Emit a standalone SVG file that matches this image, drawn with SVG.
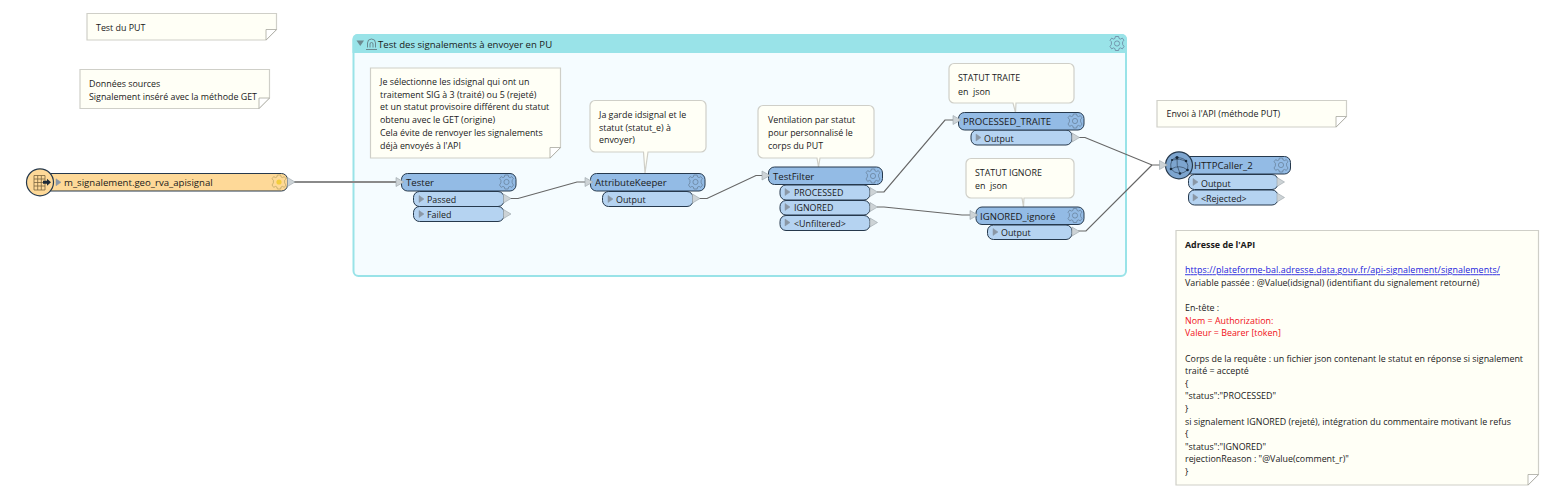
<svg xmlns="http://www.w3.org/2000/svg" width="1546" height="497" viewBox="0 0 1546 497">
<style>
text{font-family:"Open Sans","Noto Sans","Liberation Sans",sans-serif;fill:#1a1a1a;font-size:8.9px}
.l{font-size:9.6px}
.b{font-weight:700}
.r{fill:#f01020}
.u{fill:#2222dd;text-decoration:underline}
.note{fill:#fffff6;stroke:#cfcfc8;stroke-width:1.2}
.fold{fill:#fff;stroke:#a8a8a0;stroke-width:.8}
.call{fill:#fffff6;stroke:#cfcfc8;stroke-width:1.2}
.hd{fill:#93bbe5;stroke:#26394d;stroke-width:1}
.pt{fill:#b5d3f1;stroke:#26394d;stroke-width:1}
.src{fill:#fed998;stroke:#26394d;stroke-width:1}
.cn{fill:none;stroke:#666;stroke-width:1.2}
.cs{fill:none;stroke:#8a8a8a;stroke-width:1.8}
.tri{fill:#cdd3d6;stroke:#98a2a8;stroke-width:.6}
.pi{fill:#8a97a5;stroke:#8a97a5;stroke-width:.5}
.g{fill:none;stroke:#6a849e;stroke-width:.8}
.gy{fill:none;stroke:#c0a868;stroke-width:.8}
</style>
<defs>
<path id="out" class="tri" d="M0-4.500 7.500 0 0 4.500Z"/>
<path id="in" class="tri" d="M0-4.500 8 0 0 4.500Z"/>
<path id="pin" class="pi" d="M0-3.500 5 0 0 3.500Z"/>
<path id="cog" d="M-1.600-7H1.600L2.100-5 3.600-4.400 5.300-5.400 7-3.200 5.600-1.800V.9L7 3 5.300 5.400 3.600 4.400 2.100 5 1.600 7H-1.600L-2.100 5-3.600 4.400-5.300 5.400-7 3-5.600.9V-1.800L-7-3.200-5.300-5.400-3.600-4.400-2.100-5Z"/>
<g id="gear" class="g">
<circle r="2.600"/>
<use href="#cog"/>
</g>
</defs>

<g id="group-test">
<rect x="353.500" y="35" width="772.500" height="241" rx="5" fill="#f5fcff" stroke="#99e3e8" stroke-width="2"/>
<path d="M352.500 39a5 5 0 0 1 5-5H1122a5 5 0 0 1 5 5V53H352.500Z" fill="#99e3e8"/>
<path d="M356.500 40.500H364L360.250 46Z" fill="#6d8a90"/>
<path d="M366 49.500H377M367.500 47.500V43a4 4 0 0 1 8 0V47.500M370 47.500V44a1.500 1.500 0 0 1 3 0V47.500" fill="none" stroke="#5d7278" stroke-width=".8"/>
<text class="l" x="378" y="47.500">Test des signalements à envoyer en PU</text>
<use href="#gear" transform="translate(1117 43.500)"/>
</g>

<g id="connectors">
<path class="cs" d="M294 182H396"/>
<path class="cn" d="M510 198.500H518L577 182H585"/>
<path class="cn" d="M699 198.500H707L756 175.500H763"/>
<path class="cn" d="M877 192H884L945 120H953"/>
<path class="cn" d="M877 207H884L962 215H970"/>
<path class="cn" d="M1078 137.500H1085L1152 165H1160"/>
<path class="cn" d="M1078 231H1086L1152 165"/>
</g>

<g id="note-put">
<path class="note" d="M87 13.500H276.500V29.500L266 40H87Z"/><path class="fold" d="M266 40V29.500H276.500Z"/>
<text x="96" y="30.500">Test du PUT</text>
</g>
<g id="note-sources">
<path class="note" d="M80 69.500H269.500V98L259 108.500H80Z"/><path class="fold" d="M259 108.500V98H269.500Z"/>
<text x="89" y="87">Données sources</text>
<text x="89" y="99.500">Signalement inséré avec la méthode GET</text>
</g>

<g id="source">
<rect class="src" x="45" y="173.500" width="242.500" height="17.500" rx="6"/>
<circle cx="40" cy="182.300" r="13.500" fill="#fed998" stroke="#26394d" stroke-width="1.200"/>
<path d="M34 175.500H45V190H34ZM34 179H45M34 182.500H45M34 186H45M37.700 175.500V190M41.300 175.500V190" fill="none" stroke="#7a6640" stroke-width=".8"/>
<path d="M43 180.800H47V178.800L51 182.300 47 185.800V183.800H43Z" fill="#1c2a38"/>
<use href="#pin" x="56" y="182.300"/>
<text class="l" x="64" y="186">m_signalement.geo_rva_apisignal</text>
<g transform="translate(279 182)"><use href="#cog" class="gy"/><circle r="2.600" fill="#f3cd3d"/></g>
<use href="#out" x="287.500" y="182"/>
</g>

<g id="note-select">
<path class="note" d="M370.500 68H560.500V147.500L550 158H370.500Z"/><path class="fold" d="M550 158V147.500H560.500Z"/>
<text x="380" y="85">Je sélectionne les idsignal qui ont un</text>
<text x="380" y="97.700">traitement SIG à 3 (traité) ou 5 (rejeté)</text>
<text x="380" y="110.400">et un statut provisoire différent du statut</text>
<text x="380" y="123.100">obtenu avec le GET (origine)</text>
<text x="380" y="135.800">Cela évite de renvoyer les signalements</text>
<text x="380" y="148.500">déjà envoyés à l'API</text>
</g>

<g id="tester">
<rect class="pt" x="413.500" y="206.500" width="90.500" height="15" rx="6"/>
<rect class="pt" x="413.500" y="191.500" width="90.500" height="15" rx="6"/>
<rect class="hd" x="401.500" y="173.500" width="114.500" height="17.500" rx="6"/>
<text class="l" x="406" y="186">Tester</text>
<use href="#gear" transform="translate(506.500 182)"/>
<use href="#in" x="396" y="182"/>
<use href="#pin" x="419" y="199"/><text x="427" y="202.500">Passed</text><use href="#out" x="503.500" y="198.500"/>
<use href="#pin" x="419" y="214"/><text x="427" y="217.500">Failed</text><use href="#out" x="503.500" y="214"/>
</g>

<g id="note-keeper">
<path class="call" d="M595 100.500H701a5 5 0 0 1 5 5V147a5 5 0 0 1-5 5H648L645 173 643.500 152H595a5 5 0 0 1-5-5V105.500a5 5 0 0 1 5-5Z"/>
<text x="599" y="118">Ja garde idsignal et le</text>
<text x="599" y="130.500">statut (statut_e) à</text>
<text x="599" y="143">envoyer)</text>
</g>
<g id="attributekeeper">
<rect class="pt" x="602.500" y="191.500" width="90.500" height="15" rx="6"/>
<rect class="hd" x="590.500" y="173.500" width="114.500" height="17.500" rx="6"/>
<text class="l" x="595" y="186">AttributeKeeper</text>
<use href="#gear" transform="translate(695.500 182)"/>
<use href="#in" x="585" y="182"/>
<use href="#pin" x="608" y="199"/><text x="616" y="202.500">Output</text><use href="#out" x="692.500" y="198.500"/>
</g>

<g id="note-filter">
<path class="call" d="M763 105.500H869a5 5 0 0 1 5 5V153a5 5 0 0 1-5 5H820L818.500 167 817 158H763a5 5 0 0 1-5-5V110.500a5 5 0 0 1 5-5Z"/>
<text x="768" y="123">Ventilation par statut</text>
<text x="768" y="136">pour personnalisé le</text>
<text x="768" y="149">corps du PUT</text>
</g>
<g id="testfilter">
<rect class="pt" x="780" y="215.500" width="90" height="15" rx="6"/>
<rect class="pt" x="780" y="200.500" width="90" height="14.500" rx="6"/>
<rect class="pt" x="780" y="185" width="90" height="15" rx="6"/>
<rect class="hd" x="768.500" y="167" width="114" height="17.500" rx="6"/>
<text class="l" x="773" y="180">TestFilter</text>
<use href="#gear" transform="translate(873 176)"/>
<use href="#in" x="762" y="175.500"/>
<use href="#pin" x="785" y="192"/><text x="794" y="195.500">PROCESSED</text><use href="#out" x="870" y="192"/>
<use href="#pin" x="785" y="207"/><text x="794" y="211">IGNORED</text><use href="#out" x="870" y="207"/>
<use href="#pin" x="785" y="222.500"/><text x="794" y="226.500">&lt;Unfiltered&gt;</text><use href="#out" x="870" y="222.500"/>
</g>

<g id="note-traite">
<path class="call" d="M954 63.500H1069a5 5 0 0 1 5 5V98a5 5 0 0 1-5 5H1016L1015.500 112.500 1013 103H954a5 5 0 0 1-5-5V68.500a5 5 0 0 1 5-5Z"/>
<text x="958" y="81">STATUT TRAITE</text>
<text x="958" y="94.500" xml:space="preserve">en  json</text>
</g>
<g id="processed-traite">
<rect class="pt" x="971" y="130" width="101" height="15" rx="6"/>
<rect class="hd" x="958.500" y="112.500" width="125.500" height="17.500" rx="6"/>
<text class="l" x="963" y="125">PROCESSED_TRAITE</text>
<use href="#gear" transform="translate(1075 121)"/>
<use href="#in" x="953" y="120"/>
<use href="#pin" x="976" y="137.500"/><text x="984" y="141.500">Output</text><use href="#out" x="1072" y="137.500"/>
</g>

<g id="note-ignore">
<path class="call" d="M971 158.500H1069a5 5 0 0 1 5 5V193a5 5 0 0 1-5 5H1024L1023.500 207 1022 198H971a5 5 0 0 1-5-5V163.500a5 5 0 0 1 5-5Z"/>
<text x="975" y="176">STATUT IGNORE</text>
<text x="975" y="188.500" xml:space="preserve">en  json</text>
</g>
<g id="ignored-ignore">
<rect class="pt" x="987.500" y="225" width="84.500" height="14.500" rx="6"/>
<rect class="hd" x="976" y="207" width="108" height="17.500" rx="6"/>
<text class="l" x="980" y="219.500">IGNORED_ignoré</text>
<use href="#gear" transform="translate(1075 215.500)"/>
<use href="#in" x="970" y="215"/>
<use href="#pin" x="993" y="232"/><text x="1001" y="236">Output</text><use href="#out" x="1072" y="231.500"/>
</g>

<g id="note-envoi">
<path class="note" d="M1157 100.500H1346.500V116.500L1336 127H1157Z"/><path class="fold" d="M1336 127V116.500H1346.500Z"/>
<text x="1166.500" y="117">Envoi à l'API (méthode PUT)</text>
</g>

<g id="httpcaller">
<rect class="pt" x="1188.500" y="190" width="89.500" height="15" rx="6"/>
<rect class="pt" x="1188.500" y="174.500" width="89.500" height="15" rx="6"/>
<rect class="hd" x="1180" y="156.500" width="110.500" height="17.500" rx="6"/>
<circle cx="1179" cy="165.300" r="13.500" fill="#7da5cf" stroke="#26394d" stroke-width="1.200"/>
<path d="M1177 157.500Q1184 158 1186 161Q1189 165 1187.500 170Q1184 173 1180 173.500Q1174 173 1171 169Q1170 164 1172 160Q1174 158 1177 157.500ZM1177 157.500Q1176 166 1180 173.500M1172 160Q1180 158 1186 161M1171 169Q1180 164 1187.500 170" fill="none" stroke="#26394d" stroke-width=".6"/>
<g fill="#16283a"><circle cx="1177" cy="157.500" r="1.600"/><circle cx="1186" cy="161" r="1.300"/><circle cx="1187.500" cy="170" r="1.300"/><circle cx="1180" cy="173.500" r="1.300"/><circle cx="1171" cy="169" r="1.300"/><circle cx="1172" cy="160" r="1"/></g>
<text class="l" x="1194" y="169">HTTPCaller_2</text>
<use href="#gear" transform="translate(1281 165)"/>
<use href="#in" x="1159.500" y="165"/>
<use href="#pin" x="1193" y="182"/><text x="1201" y="186.500">Output</text><use href="#out" x="1277" y="182"/>
<use href="#pin" x="1193" y="197.500"/><text x="1201" y="201.500">&lt;Rejected&gt;</text><use href="#out" x="1277" y="197.500"/>
</g>

<g id="note-api">
<path class="note" d="M1176 230.500H1538.500V474.500L1528 485H1176Z"/><path class="fold" d="M1528 485V474.500H1538.500Z"/>
<text class="b" x="1185" y="248">Adresse de l'API</text>
<text class="u" x="1185" y="273.300" textLength="315">https://plateforme-bal.adresse.data.gouv.fr/api-signalement/signalements/</text>
<text x="1185" y="286">Variable passée : @Value(idsignal) (identifiant du signalement retourné)</text>
<text x="1185" y="311.200">En-tête :</text>
<text class="r" x="1185" y="323.800">Nom = Authorization:</text>
<text class="r" x="1185" y="336.400">Valeur = Bearer [token]</text>
<text x="1185" y="361.600">Corps de la requête : un fichier json contenant le statut en réponse si signalement</text>
<text x="1185" y="374.200">traité = accepté</text>
<text x="1185" y="386.800">{</text>
<text x="1185" y="399.400">"status":"PROCESSED"</text>
<text x="1185" y="412">}</text>
<text x="1185" y="424.600">si signalement IGNORED (rejeté), intégration du commentaire motivant le refus</text>
<text x="1185" y="437.200">{</text>
<text x="1185" y="449.800">"status":"IGNORED"</text>
<text x="1185" y="462.400">rejectionReason : "@Value(comment_r)"</text>
<text x="1185" y="475">}</text>
</g>
</svg>
